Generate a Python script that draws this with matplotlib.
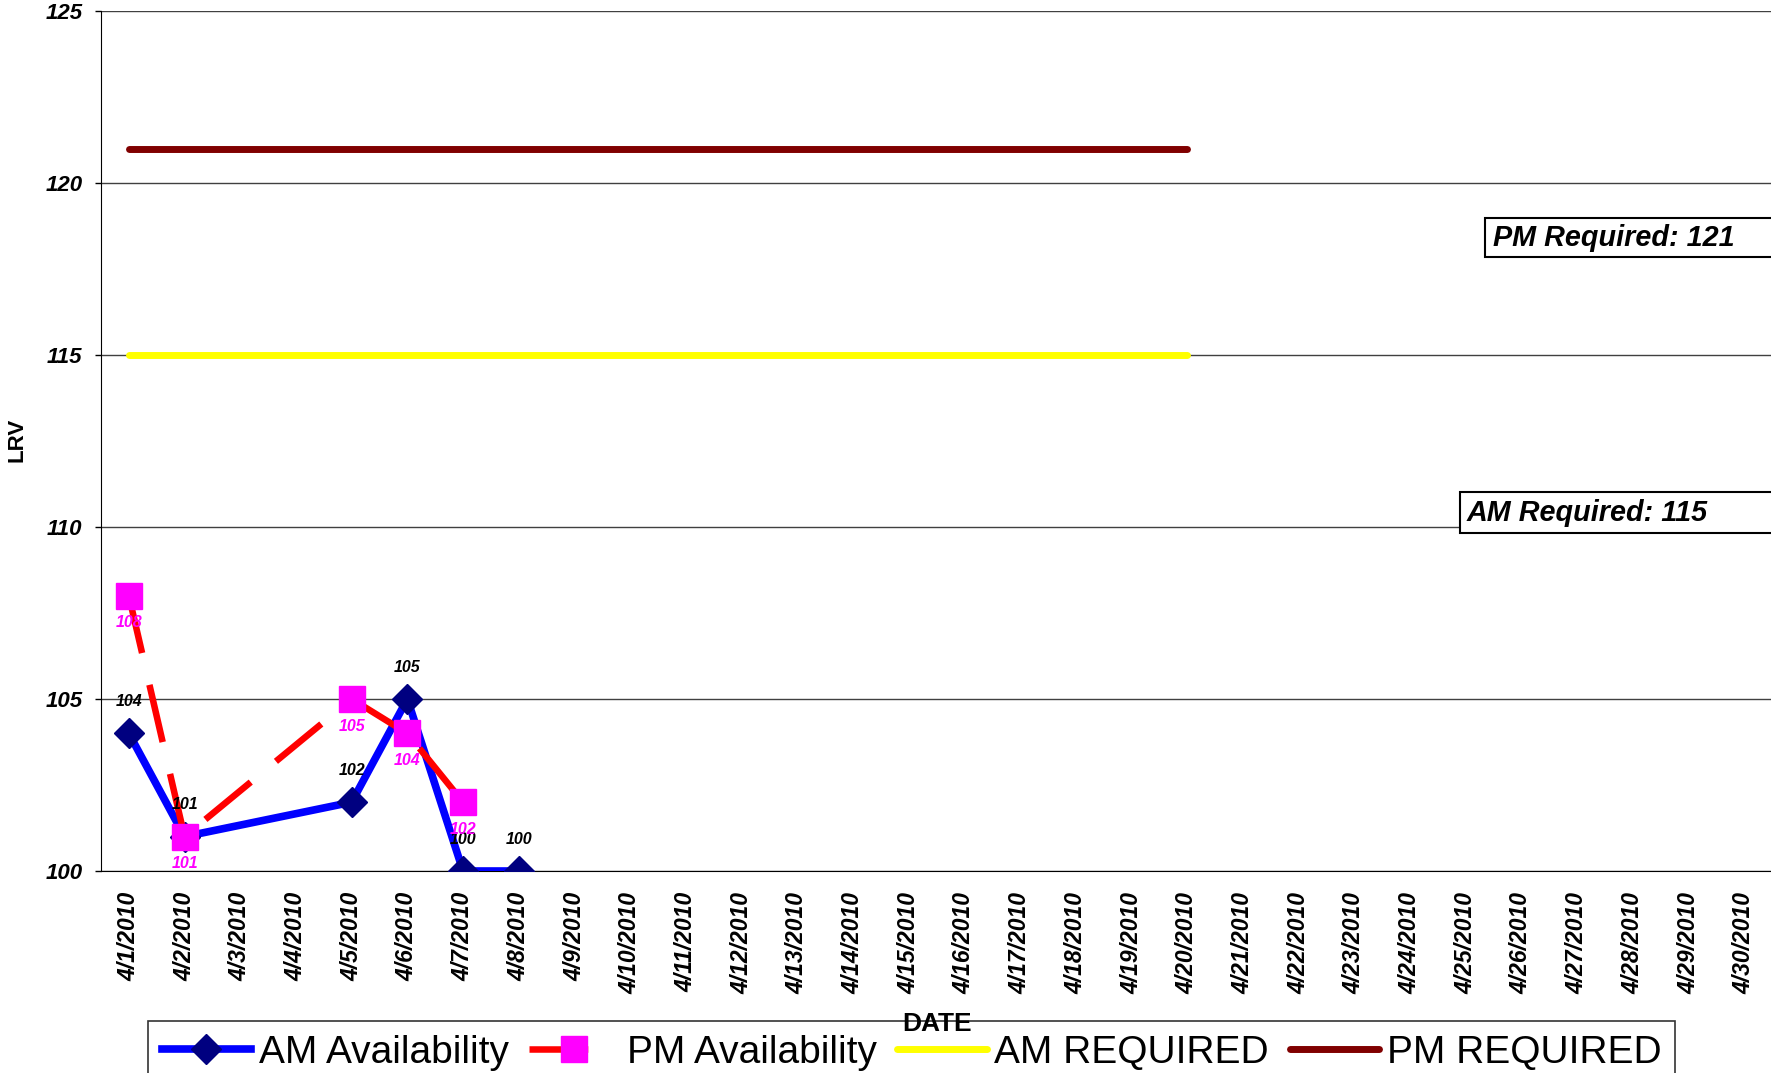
import matplotlib
matplotlib.use("Agg")
import matplotlib.pyplot as plt
from matplotlib.patches import Rectangle

plt.rcParams['font.family'] = ['Liberation Sans', 'DejaVu Sans']

# categories: every day of April 2010
dates = ['4/%d/2010' % d for d in range(1, 31)]

# days with readings (index into dates) and their values
am_days = [0, 1, 4, 5, 6, 7]
am_values = [104, 101, 102, 105, 100, 100]
pm_days = [0, 1, 4, 5, 6]
pm_values = [108, 101, 105, 104, 102]

# required levels, 4/1 through 4/20
req_days = list(range(20))
am_required = [115, 115, 115, 115, 115, 115, 115, 115, 115, 115,
               115, 115, 115, 115, 115, 115, 115, 115, 115, 115]
pm_required = [121, 121, 121, 121, 121, 121, 121, 121, 121, 121,
               121, 121, 121, 121, 121, 121, 121, 121, 121, 121]

W, H = 1771, 1073
fig = plt.figure(figsize=(W / 100, H / 100), dpi=100)
ax = fig.add_axes([101 / W, 1 - 871 / H, 1671 / W, 860 / H])

ax.plot(req_days, am_required, color='#FFFF00', lw=5, solid_capstyle='round',
        label='AM REQUIRED', zorder=3)
ax.plot(req_days, pm_required, color='#800000', lw=5, solid_capstyle='round',
        label='PM REQUIRED', zorder=3)

ax.plot(am_days, am_values, color='#0000FF', lw=5.5, marker='D', ms=15.5,
        mfc='#000080', mec='#000080', label='AM Availability', zorder=4)
ax.plot(pm_days, pm_values, color='#FF0000', lw=4.7, dashes=(9, 5), marker='s', ms=19,
        mfc='#FF00FF', mec='#FF00FF', label='PM Availability', zorder=5)

for x, v in zip(am_days, am_values):
    ax.annotate(str(v), (x, v), xytext=(0, 23), textcoords='offset points',
                ha='center', va='center', fontsize=11.5, fontweight='bold',
                fontstyle='italic', color='black', zorder=6)
for x, v in zip(pm_days, pm_values):
    ax.annotate(str(v), (x, v), xytext=(0, -19.5), textcoords='offset points',
                ha='center', va='center', fontsize=11.5, fontweight='bold',
                fontstyle='italic', color='#FF00FF', zorder=6)

ax.set_xlim(-0.5, 29.5)
ax.set_ylim(100, 125)
ax.set_xticks(range(len(dates)))
ax.set_xticklabels(dates, rotation=90, fontsize=16.5, fontweight='bold', fontstyle='italic')
ax.set_yticks([100, 105, 110, 115, 120, 125])
ax.tick_params(axis='x', length=0, pad=15)
ax.tick_params(axis='y', length=4.3, width=1, pad=9)
for lab in ax.get_yticklabels():
    lab.set_fontsize(16)
    lab.set_fontweight('bold')
    lab.set_fontstyle('italic')

ax.yaxis.grid(True, color='#404040', lw=1)
ax.set_axisbelow(True)
ax.spines['top'].set_visible(False)
ax.spines['right'].set_visible(False)
ax.spines['left'].set_color('black')
ax.spines['bottom'].set_color('black')

fig.text(17 / W, 1 - 440 / H, 'LRV', rotation=90, ha='center', va='center',
         fontsize=16, fontweight='bold')

# text boxes for the required levels
fig.add_artist(Rectangle((1485 / W, 1 - 257 / H), 0.3, 39 / H, transform=fig.transFigure,
                         facecolor='white', edgecolor='black', lw=1.5, zorder=5))
fig.text(1493 / W, 1 - 237.5 / H, 'PM Required: 121', ha='left', va='center',
         fontsize=20.7, fontweight='bold', fontstyle='italic', zorder=6)
fig.add_artist(Rectangle((1460 / W, 1 - 533 / H), 0.3, 41 / H, transform=fig.transFigure,
                         facecolor='white', edgecolor='black', lw=1.5, zorder=5))
fig.text(1467 / W, 1 - 512.5 / H, 'AM Required: 115', ha='left', va='center',
         fontsize=20.7, fontweight='bold', fontstyle='italic', zorder=6)

handles, labels = ax.get_legend_handles_labels()
order = [2, 3, 0, 1]
leg = fig.legend([handles[i] for i in order], [labels[i] for i in order],
                 loc='upper left', bbox_to_anchor=(148 / W, 1 - 1021 / H), ncol=4,
                 fontsize=28, frameon=True, fancybox=False, borderpad=0.35,
                 handlelength=2.3, handletextpad=0.2, columnspacing=0.53,
                 borderaxespad=0)
leg.get_frame().set_edgecolor('black')
leg.get_frame().set_linewidth(1.2)

fig.text(937 / W, 1 - 1024 / H, 'DATE', ha='center', va='center', fontsize=19,
         fontweight='bold', zorder=10)

fig.savefig('out.png', dpi=100)
